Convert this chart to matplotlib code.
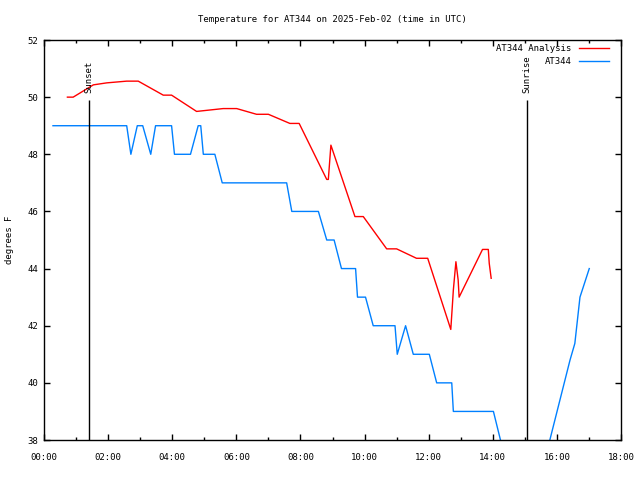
import matplotlib
matplotlib.use('Agg')
import matplotlib.pyplot as plt
from matplotlib.ticker import FuncFormatter, MultipleLocator

# times in hours UTC, temperatures in degrees F
ana_t = [0.73, 0.91, 1.54, 1.96, 2.58, 2.94, 3.72, 3.98, 4.76, 5.59, 6.01,
         6.63, 7.00, 7.67, 7.96, 8.82, 8.87, 8.95, 9.70, 9.96, 10.69, 11.00,
         11.62, 11.97, 12.69, 12.74, 12.77, 12.85, 12.92, 12.95, 13.68,
         13.86, 13.89, 13.95]
ana_temp = [50.0, 50.0, 50.43, 50.5, 50.56, 50.56, 50.07, 50.07, 49.5, 49.6,
            49.6, 49.4, 49.4, 49.08, 49.08, 47.12, 47.12, 48.32, 45.82, 45.82,
            44.69, 44.69, 44.36, 44.36, 41.87, 42.72, 43.25, 44.24, 43.6, 43.0,
            44.67, 44.67, 44.18, 43.66]

obs_t = [0.28, 2.58, 2.71, 2.91, 3.08, 3.33, 3.48, 3.98, 4.07, 4.57, 4.81,
         4.89, 4.97, 5.33, 5.56, 7.57, 7.73, 8.56, 8.82, 9.05, 9.28, 9.72,
         9.78, 10.03, 10.27, 10.95, 11.02, 11.28, 11.52, 12.02, 12.25, 12.72,
         12.77, 14.02, 14.24, 14.6, 15.0, 15.4, 15.78, 16.41, 16.56, 16.72,
         17.01]
obs_temp = [49, 49, 48, 49, 49, 48, 49, 49, 48, 48, 49, 49, 48, 48, 47, 47,
            46, 46, 45, 45, 44, 44, 43, 43, 42, 42, 41, 42, 41, 41, 40, 40,
            39, 39, 38, 37, 36.5, 37, 38, 40.8, 41.38, 43, 44]

sunset = 1.40
sunrise = 15.07

FONT = 'DejaVu Sans Mono'
FS = 6.5
plt.rcParams['font.family'] = FONT
plt.rcParams['font.size'] = FS


def hhmm(x, pos):
  return f'{int(x):02d}:{int(round((x % 1) * 60)):02d}'


fig = plt.figure(figsize=(6.4, 4.8), dpi=100)
ax = fig.add_axes([44 / 640, 40 / 480, 577 / 640, 400 / 480])

ax.plot(ana_t, ana_temp, color='#ff0000', lw=1, label='AT344 Analysis')
ax.plot(obs_t, obs_temp, color='#0080ff', lw=1, label='AT344')

ax.vlines([sunset, sunrise], 38, 49.9, color='black', lw=1)
ax.text(sunset, 50.15, 'Sunset', rotation=90, ha='center', va='bottom')
ax.text(sunrise, 50.15, 'Sunrise', rotation=90, ha='center', va='bottom')

ax.set_xlim(0, 18)
ax.set_ylim(38, 52)
ax.xaxis.set_major_locator(MultipleLocator(2))
ax.xaxis.set_minor_locator(MultipleLocator(1))
ax.yaxis.set_major_locator(MultipleLocator(2))
ax.xaxis.set_major_formatter(FuncFormatter(hhmm))
ax.tick_params(which='both', direction='in', top=True, right=True, width=1)
ax.tick_params(which='major', length=4)
ax.tick_params(which='minor', length=2.5)
ax.tick_params(axis='x', pad=9)
ax.tick_params(axis='y', pad=4)
for sp in ax.spines.values():
  sp.set_linewidth(1)

ax.set_title('Temperature for AT344 on 2025-Feb-02 (time in UTC)', pad=13, fontsize=FS)
fig.text(10 / 640, 0.5, 'degrees F', rotation=90, ha='center', va='center')

ax.legend(loc='upper right', bbox_to_anchor=(1 - 6 / 577, 1 + 2 / 400),
          frameon=False, markerfirst=False,
          handlelength=3.3, handletextpad=0.8, labelspacing=0.45,
          borderaxespad=0.3)

fig.savefig('out.png', dpi=100)
